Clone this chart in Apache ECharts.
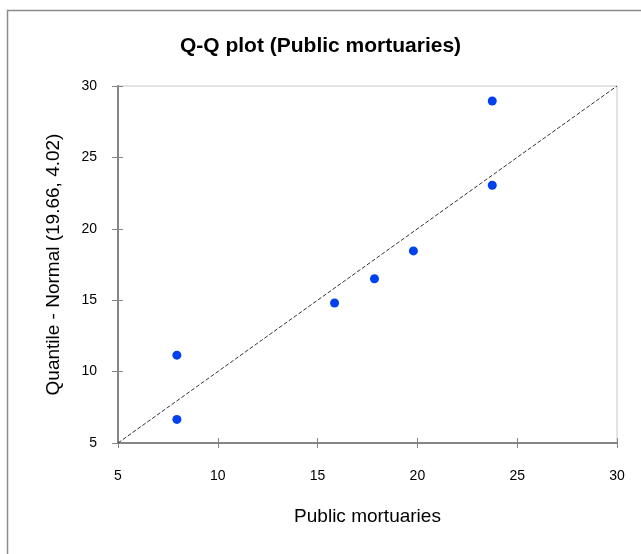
<!DOCTYPE html>
<html><head><meta charset="utf-8">
<script src="https://cdn.jsdelivr.net/npm/echarts@6/dist/echarts.min.js"></script>
<style>html,body{margin:0;padding:0;background:#fff}#c{width:641px;height:554px}</style>
</head><body><div id="c"></div>
<script>
const title = "Q-Q plot (Public mortuaries)";
const xName = "Public mortuaries";
const yName = "Quantile - Normal (19.66, 4.02)";
const observed = [7.95, 7.95, 15.85, 17.85, 19.8, 23.75, 23.75];
const theoretical = [6.65, 11.15, 14.8, 16.5, 18.45, 23.05, 28.95];
const refLine = [[5, 5], [30, 30]];
const axisMin = 5, axisMax = 30, axisStep = 5;

const points = observed.map((x, i) => [x, theoretical[i]]);
const chart = echarts.init(document.getElementById('c'), null, {renderer: 'canvas'});
const lab = {color: '#000', fontFamily: 'Liberation Sans, Arial', fontSize: 14};
const nameStyle = {fontFamily: 'Liberation Sans, Arial', fontSize: 19, color: '#000'};
const gridPos = {left: 118, top: 86, right: 24, bottom: 111};
chart.setOption({
  animation: false,
  backgroundColor: '#fff',
  title: {text: title, left: 'center', top: 31,
    textStyle: {fontFamily: 'Liberation Sans, Arial', fontWeight: 'bold', fontSize: 21, color: '#000'}},
  graphic: [{type: 'polyline', shape: {points: [[7.5, 560], [7.5, 10.5], [650, 10.5]]},
    style: {stroke: '#8c8c8c', lineWidth: 1.5, fill: null}}],
  grid: Object.assign({show: true, borderColor: '#c8c8c8', borderWidth: 1}, gridPos),
  xAxis: [{
    type: 'value', min: axisMin, max: axisMax, interval: axisStep,
    name: xName, nameLocation: 'middle', nameGap: 64, nameTextStyle: nameStyle,
    axisLine: {show: true, lineStyle: {color: '#868686', width: 2}},
    axisTick: {show: true, length: 5, lineStyle: {color: '#868686', width: 1}},
    axisLabel: Object.assign({margin: 26}, lab),
    splitLine: {show: false}
  }, {
    type: 'value', min: axisMin, max: axisMax, interval: axisStep, position: 'bottom',
    axisLine: {show: false}, axisLabel: {show: false}, splitLine: {show: false},
    axisTick: {show: true, inside: true, length: 5, lineStyle: {color: '#868686', width: 1}}
  }],
  yAxis: [{
    type: 'value', min: axisMin, max: axisMax, interval: axisStep,
    name: yName, nameLocation: 'middle', nameGap: 55, nameRotate: 90, nameTextStyle: nameStyle,
    axisLine: {show: true, lineStyle: {color: '#868686', width: 2}},
    axisTick: {show: true, length: 6, lineStyle: {color: '#868686', width: 1}},
    axisLabel: Object.assign({margin: 21}, lab),
    splitLine: {show: false}
  }, {
    type: 'value', min: axisMin, max: axisMax, interval: axisStep, position: 'left',
    axisLine: {show: false}, axisLabel: {show: false}, splitLine: {show: false},
    axisTick: {show: true, inside: true, length: 5, lineStyle: {color: '#868686', width: 1}}
  }],
  series: [{
    type: 'line', data: refLine, symbol: 'none', silent: true,
    lineStyle: {color: '#333', width: 1, type: [4, 2]}
  }, {
    type: 'scatter', data: points, symbol: 'circle', symbolSize: 9,
    itemStyle: {color: '#0040ee', opacity: 1}
  }]
});
</script></body></html>
